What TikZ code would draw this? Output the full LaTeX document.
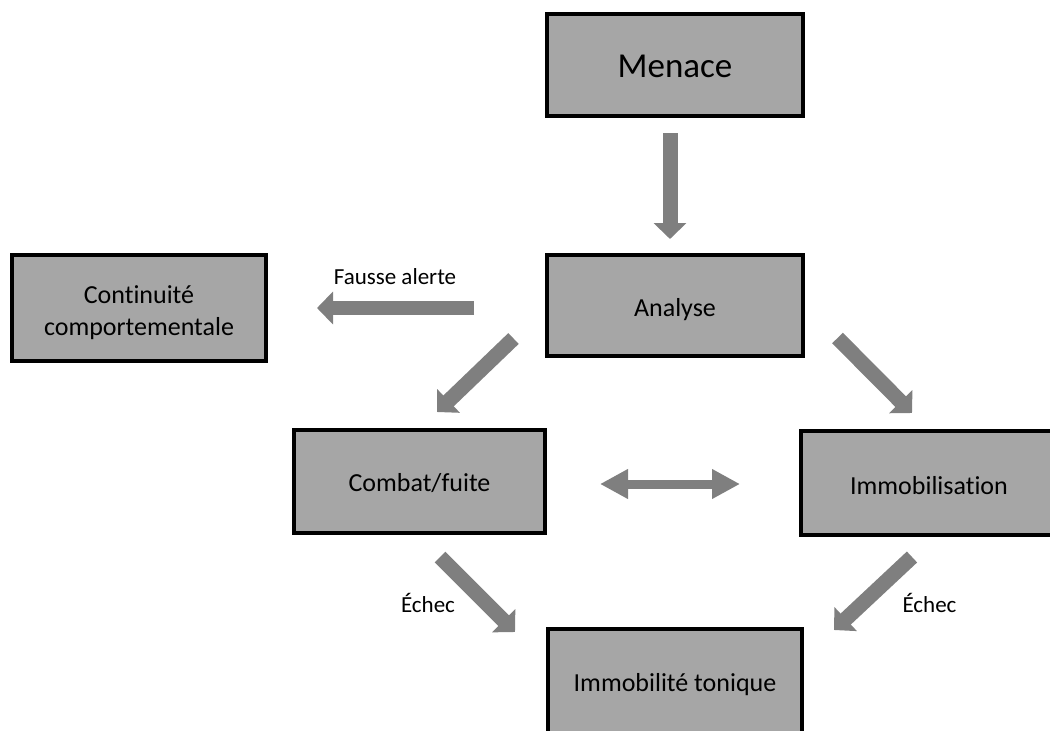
\documentclass[tikz,border=0pt]{standalone}
\usepackage{fontspec}
\setmainfont{Carlito}[Ligatures=NoCommon]
\usetikzlibrary{arrows.meta}
\definecolor{boxgray}{HTML}{A6A6A6}
\definecolor{arrgray}{HTML}{7F7F7F}
\begin{document}
\begin{tikzpicture}[x=1pt,y=-1pt,
  box/.style={draw=black,fill=boxgray,line width=4pt,inner sep=0pt,align=center,
    font=\fontsize{26}{32}\selectfont},
  onebox/.style={box,text height=22pt,text depth=0pt},
  fat/.style={draw=arrgray,line width=15pt,-{Triangle[width=32pt,length=16pt]}},
  dbl/.style={draw=arrgray,line width=9pt,{Triangle[width=28pt,length=28pt]}-{Triangle[width=28pt,length=28pt]}},
  lbl/.style={anchor=base,inner sep=0pt,font=\fontsize{23}{28}\selectfont}]
\useasboundingbox (0,0) rectangle (1050,731);
\clip (0,0) rectangle (1050,731);
\node[onebox,minimum width=256pt,minimum height=102pt,font=\fontsize{35}{42}\selectfont,text height=24pt] (menace) at (675,65) {Menace};
\node[onebox,minimum width=256pt,minimum height=101pt] (analyse) at (675,305.5) {Analyse};
\node[box,minimum width=254pt,minimum height=106pt] (cont) at (139,308) {\rule{0pt}{27pt}Continuité\\comportementale};
\node[onebox,minimum width=251pt,minimum height=103pt,text height=20pt] (combat) at (419.5,481) {Combat/fuite};
\node[onebox,minimum width=256pt,minimum height=104pt] (immob) at (929,483) {Immobilisation};
\node[onebox,minimum width=254pt,minimum height=104pt] (tonique) at (675,680.5) {Immobilité tonique};
% arrow end points
\coordinate (m1) at (670,133); \coordinate (m2) at (670,239);
\coordinate (f1) at (474,308); \coordinate (f2) at (317,308);
\coordinate (a1) at (513.5,338.5); \coordinate (a2) at (437,412);
\coordinate (b1) at (837.5,338); \coordinate (b2) at (912,413);
\coordinate (c1) at (440,557); \coordinate (c2) at (515,632);
\coordinate (d1) at (912,557); \coordinate (d2) at (834,630);
\coordinate (e1) at (600,484); \coordinate (e2) at (740,484);
\draw[fat] (m1) -- (m2);
\draw[fat,line width=14pt] (f1) -- (f2);
\draw[fat] (a1) -- (a2);
\draw[fat] (b1) -- (b2);
\draw[fat] (c1) -- (c2);
\draw[fat] (d1) -- (d2);
\draw[dbl] (e1) -- (e2);
\node[lbl] (fa) at (395,284) {Fausse alerte};
\node[lbl] (ech1) at (428,612) {Échec};
\node[lbl] (ech2) at (929.5,612) {Échec};
\end{tikzpicture}
\end{document}
